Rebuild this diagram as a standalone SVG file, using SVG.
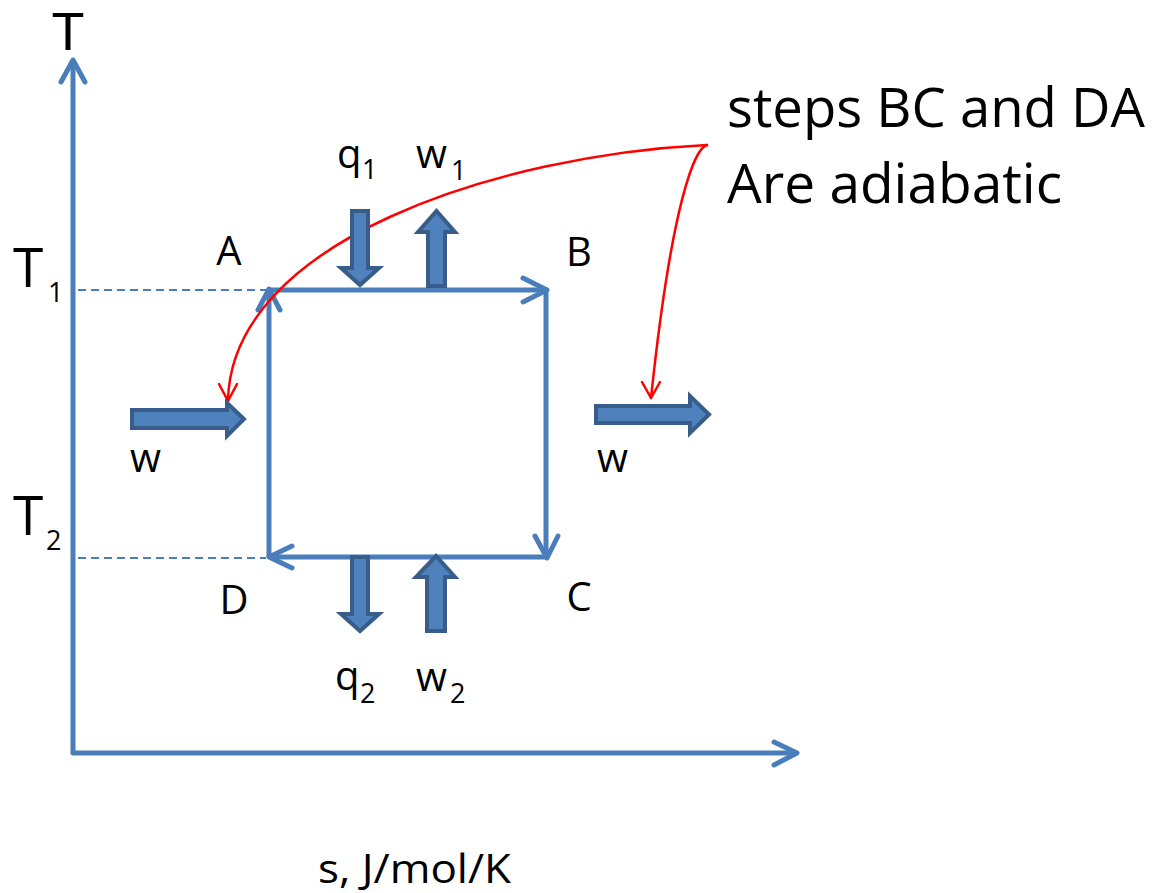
<svg xmlns="http://www.w3.org/2000/svg" width="1153" height="893" viewBox="0 0 1153 893">
<style>
.ax{fill:none;stroke:#4A7EBB;stroke-width:5;stroke-linecap:round;stroke-linejoin:round}
.ln{fill:none;stroke:#4A7EBB;stroke-width:5;stroke-linejoin:round}
.dash{fill:none;stroke:#4A7EBB;stroke-width:2;stroke-dasharray:8 5}
.blk{fill:#4F81BD;stroke:#385D8A;stroke-width:4;stroke-linejoin:miter}
.red{fill:none;stroke:#FF0000;stroke-width:2.5;stroke-linecap:round;stroke-linejoin:round}
text{font-family:"Open Sans","Liberation Sans",Arial,sans-serif;fill:#000}
.lbl{font-size:40px}
.sub{font-size:27px}
.big{font-size:55px}
</style>
<rect width="1153" height="893" fill="#fff"/>
<g id="connectors">
  <path class="dash" d="M78,290 L266,290"/>
  <path class="dash" d="M78,558 L266,558"/>
  <path class="ln" d="M73,62 L73,753 L797,753"/>
  <path class="ax" d="M61,82 L73,60 L85,82"/>
  <path class="ax" d="M774,742 L797,753 L774,765"/>
  <path class="ln" d="M269,557 L269,292"/>
  <path class="ax" d="M258,310 L269,289 L280,310"/>
  <path class="ln" d="M269,290 L545,290"/>
  <path class="ax" d="M523,278 L547,290 L523,302"/>
  <path class="ln" d="M546,290 L546,556"/>
  <path class="ax" d="M535,536 L547,558 L558,536"/>
  <path class="ln" d="M546,557 L271,557"/>
  <path class="ax" d="M292,546 L269,557 L292,568"/>
  <path class="red" d="M707,145 C500,155 232,240 228,400"/>
  <path class="red" d="M219,384 L228,401 L237,384"/>
  <path class="red" d="M707,145 C695,148 672,200 651,398"/>
  <path class="red" d="M642,382 L651,398 L660,382"/>
</g>
<g id="q1-arrow"><polygon class="blk" points="352,211 368,211 368,268 379,268 360,285 341,268 352,268"/></g>
<g id="w1-arrow"><polygon class="blk" points="428,286 445,286 445,232 455,232 436.5,211 418,232 428,232"/></g>
<g id="q2-arrow"><polygon class="blk" points="352,557 368,557 368,614 379,614 360,631 341,614 352,614"/></g>
<g id="w2-arrow"><polygon class="blk" points="427,631 445,631 445,577 455,577 436,556 416,577 427,577"/></g>
<g id="w-left-arrow"><polygon class="blk" points="132,410 227,410 227,403 244,419 227,436 227,428 132,428"/></g>
<g id="w-right-arrow"><polygon class="blk" points="596,406 690,406 690,396 709,414.5 690,433 690,423 596,423"/></g>
<g id="label-T"><text x="68" y="50" text-anchor="middle" style="font-family:'Liberation Sans',Arial,sans-serif;font-size:54px">T</text></g>
<g id="label-T1"><text class="big" x="13" y="287">T<tspan class="sub" font-size="31" x="48" y="302">1</tspan></text></g>
<g id="label-T2"><text class="big" x="13" y="535">T<tspan class="sub" font-size="31" x="46" y="550">2</tspan></text></g>
<g id="label-A"><text class="lbl" x="229" y="265" text-anchor="middle">A</text></g>
<g id="label-B"><text class="lbl" x="579" y="266" text-anchor="middle">B</text></g>
<g id="label-C"><text class="lbl" x="579" y="611" text-anchor="middle">C</text></g>
<g id="label-D"><text class="lbl" x="234" y="614" text-anchor="middle">D</text></g>
<g id="label-q1"><text class="lbl" x="337" y="168">q<tspan class="sub" x="362" y="179">1</tspan></text></g>
<g id="label-w1"><text class="lbl" x="416" y="168">w<tspan class="sub" x="451" y="180">1</tspan></text></g>
<g id="label-q2"><text class="lbl" x="335" y="690">q<tspan class="sub" x="360" y="703">2</tspan></text></g>
<g id="label-w2"><text class="lbl" x="416" y="691">w<tspan class="sub" x="450" y="703">2</tspan></text></g>
<g id="label-w-left"><text class="lbl" x="130" y="472">w</text></g>
<g id="label-w-right"><text class="lbl" x="597" y="472">w</text></g>
<g id="label-s"><text class="lbl" x="318" y="883" textLength="193" lengthAdjust="spacingAndGlyphs">s, J/mol/K</text></g>
<g id="note">
  <text class="big" font-size="54" x="727" y="127" textLength="418" lengthAdjust="spacingAndGlyphs">steps BC and DA</text>
  <text class="big" font-size="54" x="727" y="203" textLength="335" lengthAdjust="spacingAndGlyphs">Are adiabatic</text>
</g>
</svg>
